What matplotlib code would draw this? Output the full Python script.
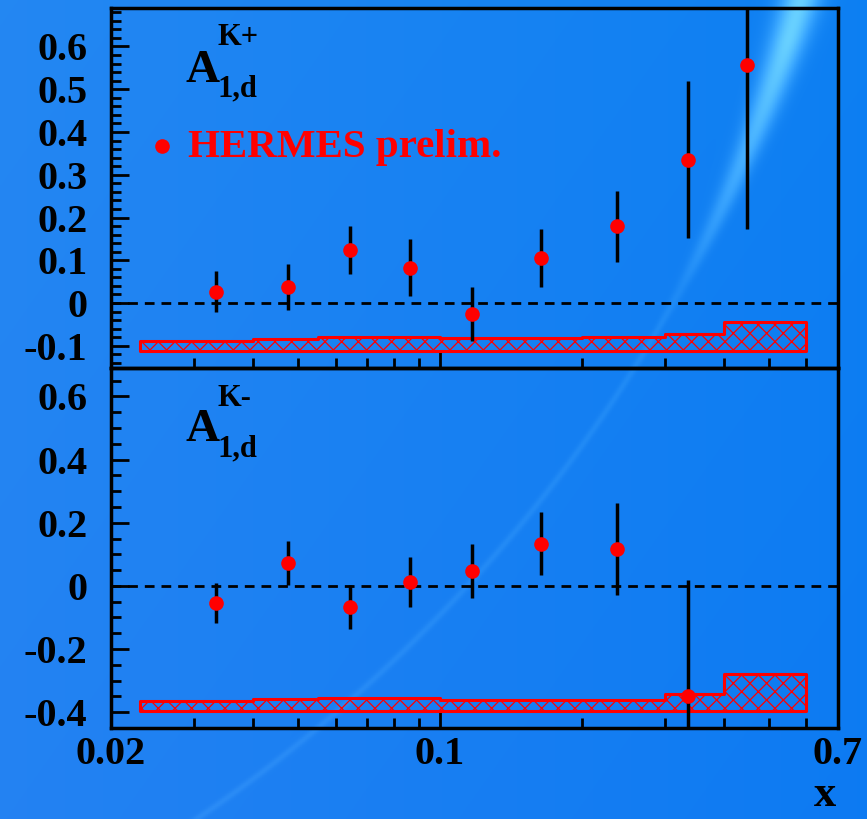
import numpy as np
import matplotlib.pyplot as plt

plt.rcParams['font.family'] = ['Liberation Serif', 'DejaVu Serif']
plt.rcParams['font.weight'] = 'bold'
plt.rcParams['hatch.linewidth'] = 0.9

# bin centres (x) of the kaon asymmetry points
x_top = [0.0334, 0.0475, 0.0644, 0.0863, 0.117, 0.164, 0.238, 0.336, 0.449]
a_kplus = [0.026, 0.038, 0.124, 0.083, -0.026, 0.106, 0.180, 0.335, 0.557]
e_kplus = [0.048, 0.054, 0.056, 0.066, 0.063, 0.068, 0.083, 0.184, 0.384]

x_bot = [0.0334, 0.0475, 0.0644, 0.0863, 0.117, 0.164, 0.238, 0.336]
a_kminus = [-0.054, 0.073, -0.066, 0.013, 0.047, 0.133, 0.117, -0.35]
e_kminus = [0.062, 0.070, 0.070, 0.080, 0.085, 0.100, 0.145, 0.37]

# systematic error bands (tops of the step band, common baseline)
sys_edges = [0.023, 0.04, 0.055, 0.1, 0.2, 0.3, 0.4, 0.6]
sys_kplus_top = [-0.088, -0.084, -0.080, -0.083, -0.080, -0.072, -0.044]
sys_kplus_base = -0.113
sys_kminus_top = [-0.364, -0.359, -0.355, -0.360, -0.360, -0.341, -0.278]
sys_kminus_base = -0.395

fig = plt.figure(figsize=(8.67, 8.19), dpi=100)

# slide-like blue background with a light arc
bg = fig.add_axes([0, 0, 1, 1])
yy, xx = np.mgrid[0:1:500j, 0:1:500j]
img = np.ones((500, 500, 3)) * np.array([0.08, 0.48, 0.95])
img[..., 0] += 0.06 * (1 - xx) - 0.03 * xx
img[..., 1] += 0.03 * (1 - xx) + 0.02 * yy
r = np.sqrt((xx + 0.849) ** 2 + (yy - 1.492) ** 2)
wid = 0.004 + 0.018 * np.clip((yy - 0.6) / 0.4, 0, 1)
amp = 0.05 + 0.3 * np.clip((yy - 0.65) / 0.3, 0, 1)
glow = amp * np.exp(-((r - 1.84) / wid) ** 2)
img += glow[..., None] * np.array([1.0, 0.9, 0.3])
img = np.clip(img, 0, 1)
bg.imshow(img, aspect='auto', extent=[0, 1, 0, 1], origin='lower')
bg.axis('off')

left, right = 111 / 867, 838 / 867
ax1 = fig.add_axes([left, 1 - 368 / 819, right - left, 360 / 819])
ax2 = fig.add_axes([left, 1 - 728 / 819, right - left, 360 / 819])


def style(ax, ylim, major, minor, labels):
    ax.set_facecolor('none')
    ax.set_xscale('log')
    ax.set_xlim(0.02, 0.7)
    ax.set_ylim(*ylim)
    for s in ax.spines.values():
        s.set_linewidth(2.5)
    ax.set_yticks(major)
    ax.set_yticklabels(labels)
    ax.set_yticks(minor, minor=True)
    ax.tick_params(axis='both', which='both', direction='in', width=2,
                   right=False, top=False, labelsize=29)
    ax.tick_params(axis='y', which='both', pad=17)
    ax.tick_params(axis='both', which='major', length=13)
    ax.tick_params(axis='both', which='minor', length=7)
    ax.axhline(0, color='k', lw=2, ls=(0, (3.5, 2.5)), zorder=1)


style(ax1, (-0.152, 0.69), [-0.1, 0, 0.1, 0.2, 0.3, 0.4, 0.5, 0.6],
      np.arange(-0.14, 0.69, 0.02),
      ['-0.1', '0', '0.1', '0.2', '0.3', '0.4', '0.5', '0.6'])
style(ax2, (-0.45, 0.69), [-0.4, -0.2, 0, 0.2, 0.4, 0.6],
      np.arange(-0.45, 0.69, 0.05),
      ['-0.4', '-0.2', '0', '0.2', '0.4', '0.6'])

minor_x = [0.03, 0.04, 0.05, 0.06, 0.07, 0.08, 0.09, 0.2, 0.3, 0.4, 0.5, 0.6]
ax1.set_xticks([0.1])
ax1.set_xticklabels([])
ax1.set_xticks(minor_x, minor=True)
ax1.set_xticklabels([], minor=True)
ax2.set_xticks([0.02, 0.1, 0.7])
ax2.set_xticklabels(['0.02', '0.1', '0.7'])
ax2.set_xticks(minor_x, minor=True)
ax2.set_xticklabels([], minor=True)
ax2.tick_params(axis='x', which='major', pad=6)

for ax, tops, b in [(ax1, sys_kplus_top, sys_kplus_base),
                    (ax2, sys_kminus_top, sys_kminus_base)]:
    ax.fill_between(sys_edges, b, tops + tops[-1:], step='post', facecolor='none',
                    edgecolor='red', hatch='xx', linewidth=2.2, zorder=2)

for ax, xs, ys, es in [(ax1, x_top, a_kplus, e_kplus), (ax2, x_bot, a_kminus, e_kminus)]:
    ax.errorbar(xs, ys, yerr=es, fmt='o', color='red', ms=9.5, ecolor='black',
                elinewidth=2.5, capsize=0, zorder=4)

# labels
fig.text(185 / 867, 1 - 82 / 819, 'A', fontsize=34)
fig.text(218 / 867, 1 - 45 / 819, 'K+', fontsize=22)
fig.text(218 / 867, 1 - 96 / 819, '1,d', fontsize=22)
fig.text(185 / 867, 1 - 441 / 819, 'A', fontsize=34)
fig.text(218 / 867, 1 - 406 / 819, 'K-', fontsize=22)
fig.text(218 / 867, 1 - 456 / 819, '1,d', fontsize=22)

fig.lines.append(plt.Line2D([162 / 867], [1 - 146 / 819], marker='o', ms=9.5,
                            color='red', transform=fig.transFigure))
fig.text(188 / 867, 1 - 147 / 819, 'HERMES prelim.', fontsize=29.5, color='red',
         va='center')
fig.text(825 / 867, 1 - 815 / 819, 'x', fontsize=32, ha='center', va='bottom')

fig.savefig('out.png', dpi=100)
